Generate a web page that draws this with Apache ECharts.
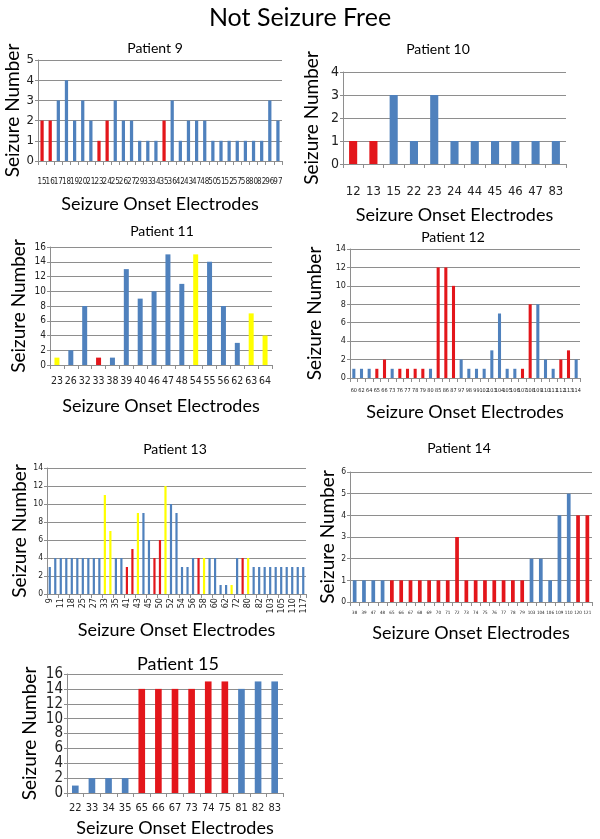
<!DOCTYPE html>
<html><head><meta charset="utf-8">
<script src="https://cdn.jsdelivr.net/npm/echarts@6/dist/echarts.min.js"></script>
<style>html,body{margin:0;padding:0;background:#fff}#c{width:600px;height:839px}</style>
</head><body><div id="c"></div>
<script>
// ---- data ----
const p9Labels = ['15','16','17','18','19','20','21','23','24','25','26','27','29','33','34','35','36','42','43','47','48','50','51','52','57','58','80','82','96','97'];
const p9Values = [2,2,3,4,2,3,2,1,2,3,2,2,1,1,1,2,3,1,2,2,2,1,1,1,1,1,1,1,3,2];
const p9Groups = ['r','r','b','b','b','b','b','r','r','b','b','b','b','b','b','r','b','b','b','b','b','b','b','b','b','b','b','b','b','b'];

const p10Labels = ['12','13','15','22','23','24','44','45','46','47','83'];
const p10Values = [1,1,3,1,3,1,1,1,1,1,1];
const p10Groups = ['r','r','b','b','b','b','b','b','b','b','b'];

const p11Labels = ['23','26','32','33','38','39','40','46','47','48','54','55','56','62','63','64'];
const p11Values = [1,2,8,1,1,13,9,10,15,11,15,14,8,3,7,4];
const p11Groups = ['y','b','b','r','b','b','b','b','b','b','y','b','b','b','y','y'];

const p12Labels = ['60','62','64','65','66','73','76','77','78','79','80','85','86','87','97','98','99','102','103','104','105','106','107','108','109','110','111','112','113','114'];
const p12Values = [1,1,1,1,2,1,1,1,1,1,1,12,12,10,2,1,1,1,3,7,1,1,1,8,8,2,1,2,3,2];
const p12Groups = ['b','b','b','r','r','b','r','r','r','r','b','r','r','r','b','b','b','b','b','b','b','b','r','r','b','b','b','r','r','b'];

const p13Labels = ['9','10','11','17','18','19','25','26','27','28','33','34','35','40','41','42','43','44','45','49','50','51','52','53','54','55','56','57','58','59','60','61','62','71','72','73','80','81','82','102','103','104','105','106','110','111','117'];
const p13Values = [3,4,4,4,4,4,4,4,4,4,11,7,4,4,3,5,9,9,6,4,6,12,10,9,3,3,4,4,4,4,4,1,1,1,4,4,4,3,3,3,3,3,3,3,3,3,3];
const p13Groups = ['b','b','b','b','b','b','b','b','b','b','y','y','b','b','r','r','y','b','b','r','r','y','b','b','b','b','b','r','y','b','b','b','b','y','b','r','y','b','b','b','b','b','b','b','b','b','b'];

const p14Labels = ['38','39','47','48','65','66','67','68','69','70','71','72','73','74','75','76','77','78','79','103','104','106','109','110','120','121'];
const p14Values = [1,1,1,1,1,1,1,1,1,1,1,3,1,1,1,1,1,1,1,2,2,1,4,5,4,4];
const p14Groups = ['b','b','b','b','r','r','r','r','r','r','r','r','r','r','r','r','r','r','r','b','b','b','b','b','r','r'];

const p15Labels = ['22','33','34','35','65','66','67','73','74','75','81','82','83'];
const p15Values = [1,2,2,2,14,14,14,14,15,15,14,15,15];
const p15Groups = ['b','b','b','b','r','r','r','r','r','r','b','b','b'];

// ---- styling ----
const COLORS = {b:'#4f81bd', r:'#e3161b', y:'#ffff00'};
const FONT = 'Lato';
const NARROW = "'DejaVu Sans Condensed', 'Liberation Sans Narrow', 'Liberation Sans', sans-serif";
const GRID_COLOR = '#8e8e8e';

const panels = [
  {title:'Patient 9', tx:150, ty:36, tsize:14, labels:p9Labels, values:p9Values, groups:p9Groups,
   grid:{left:38, top:60, width:244, height:101}, max:5, interval:1, ysize:13, xsize:8, xrot:0, xmargin:17, bw:'40%', xgap:34, ygap:16},
  {title:'Patient 10', tx:433, ty:37, tsize:14, labels:p10Labels, values:p10Values, groups:p10Groups,
   grid:{left:343, top:72, width:223, height:92}, max:4, interval:1, ysize:14, xsize:13, xrot:0, xmargin:21, bw:'40%', xgap:42, ygap:22},
  {title:'Patient 11', tx:157, ty:219, tsize:14, labels:p11Labels, values:p11Values, groups:p11Groups,
   grid:{left:50, top:247, width:222, height:118}, max:16, interval:2, ysize:10, xsize:10.5, xrot:0, xmargin:11, bw:'36%', xgap:32, ygap:22},
  {title:'Patient 12', tx:448, ty:225, tsize:14, labels:p12Labels, values:p12Values, groups:p12Groups,
   grid:{left:350, top:249, width:230, height:129}, max:14, interval:2, ysize:9, xsize:5.5, xrot:0, xmargin:10, bw:'40%', xgap:25, ygap:26},
  {title:'Patient 13', tx:170, ty:437, tsize:14, labels:p13Labels, values:p13Values, groups:p13Groups,
   grid:{left:47, top:468, width:259, height:126}, max:14, interval:2, ysize:8.5, xsize:9, xrot:90, xmargin:4, bw:'40%', xgap:27, ygap:18},
  {title:'Patient 14', tx:454, ty:436, tsize:14, labels:p14Labels, values:p14Values, groups:p14Groups,
   grid:{left:350, top:472, width:242, height:130}, max:6, interval:1, ysize:8.5, xsize:4.5, xrot:0, xmargin:8, bw:'40%', xgap:22, ygap:12},
  {title:'Patient 15', tx:173, ty:650, tsize:18, labels:p15Labels, values:p15Values, groups:p15Groups,
   grid:{left:67, top:674, width:216, height:119}, max:16, interval:2, ysize:15, xsize:11, xrot:0, xmargin:10, bw:'40%', xgap:26, ygap:28}
];

const option = {
  animation:false,
  backgroundColor:'#fff',
  title:[{text:'Not Seizure Free', left:'center', top:0,
          textStyle:{fontFamily:FONT, fontSize:25, fontWeight:'normal', color:'#000'}}],
  grid:[], xAxis:[], yAxis:[], series:[]
};

panels.forEach((p,i)=>{
  option.title.push({text:p.title, left:p.tx, top:p.ty, textAlign:'center',
    textStyle:{fontFamily:FONT, fontSize:p.tsize, fontWeight:'normal', color:'#000'}});
  option.grid.push(Object.assign({containLabel:false}, p.grid));
  option.xAxis.push({type:'category', gridIndex:i, data:p.labels,
    name:'Seizure Onset Electrodes', nameLocation:'middle', nameGap:p.xgap,
    nameTextStyle:{fontFamily:FONT, fontSize:18, color:'#000'},
    axisLine:{lineStyle:{color:GRID_COLOR}},
    axisTick:{show:true, alignWithLabel:false, length:4, lineStyle:{color:GRID_COLOR}},
    axisLabel:{interval:p.xrot ? 1 : 0, rotate:p.xrot, fontFamily:NARROW, fontSize:p.xsize, color:'#222', margin:p.xmargin}});
  option.yAxis.push({type:'value', gridIndex:i, min:0, max:p.max, interval:p.interval,
    name:'Seizure Number', nameLocation:'middle', nameGap:p.ygap,
    nameTextStyle:{fontFamily:FONT, fontSize:19, color:'#000'},
    axisLine:{show:true, lineStyle:{color:GRID_COLOR}},
    axisTick:{show:true, length:3, lineStyle:{color:GRID_COLOR}},
    splitLine:{show:true, lineStyle:{color:GRID_COLOR, width:1}},
    axisLabel:{fontFamily:NARROW, fontSize:p.ysize, color:'#222', margin:4}});
  option.series.push({type:'bar', xAxisIndex:i, yAxisIndex:i, barWidth:p.bw,
    data:p.values.map((v,k)=>({value:v, itemStyle:{color:COLORS[p.groups[k]]}}))});
});

const chart = echarts.init(document.getElementById('c'), null, {renderer:'canvas'});
chart.setOption(option);
</script></body></html>
